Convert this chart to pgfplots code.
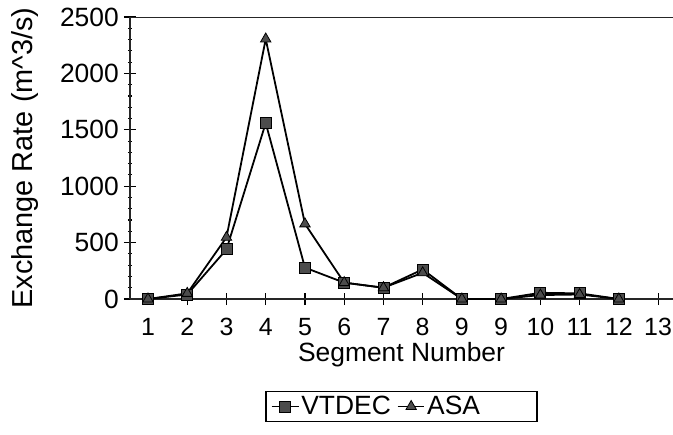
\documentclass[border=0pt]{standalone}
\usepackage{fontspec}
\setmainfont{Liberation Sans}
\usepackage{pgfplots}
\pgfplotsset{compat=1.18}
\begin{document}
\begin{tikzpicture}
\begin{axis}[
  name=ax,
  scale only axis, width=543bp, height=282bp,
  xmin=0.541, xmax=14.38, ymin=0, ymax=2500,
  xtick={1,...,14}, xticklabels={1,2,3,4,5,6,7,8,9,9,10,11,12,13},
  ytick={0,500,...,2500}, minor y tick num=4,
  tick align=center, major tick length=12bp, minor tick length=4bp,
  axis y line*=left, axis x line*=bottom,
  axis line style={line width=1.5pt, -, black!85},
  tick style={line width=1.1pt, black},
  /pgf/number format/assume math mode=true,
  /pgf/number format/1000 sep={},
  xticklabel style={font=\fontsize{25}{27}\selectfont, text height=18bp, text depth=0bp, inner sep=0pt, anchor=north, yshift=-12bp},
  yticklabel style={font=\fontsize{26.5}{28}\selectfont, inner sep=0pt, anchor=east, xshift=-5bp},
  xlabel={Segment Number}, ylabel={Exchange Rate (m\textasciicircum 3/s)},
  every axis x label/.style={at={(axis description cs:0.5,0)}, anchor=center, yshift=-56bp, font=\fontsize{26.5}{28}\selectfont},
  every axis y label/.style={at={(axis description cs:0,0.5)}, rotate=90, anchor=center, yshift=105bp, font=\fontsize{29}{30}\selectfont},
  legend style={at={(0.5,0)}, yshift=-92bp, anchor=north, legend columns=2, draw=black, line width=1.1pt,
    font=\fontsize{26.5}{28}\selectfont, inner xsep=5pt, inner ysep=3pt,
    /tikz/every even column/.append style={column sep=4pt},
    nodes={inner sep=2pt}},
  legend image code/.code={\draw[#1, line width=1.5pt] (0cm,0cm) -- (0.95cm,0cm); \draw[#1, only marks] plot coordinates {(0.48cm,0cm)};},
]
\addplot[black, line width=1.8pt, mark=square*, mark size=5.5bp, mark options={fill=black!70, draw=black, line width=0.8pt}] coordinates {
 (1,0) (2,40) (3,440) (4,1560) (5,278) (6,145) (7,100) (8,262) (9,0) (10,0) (11,55) (12,50) (13,0)
};
\addlegendentry{VTDEC}
\addplot[black, line width=1.8pt, mark=triangle*, mark size=6bp, mark options={fill=black!70, draw=black, line width=0.8pt}] coordinates {
 (1,0) (2,50) (3,547) (4,2305) (5,666) (6,145) (7,100) (8,232) (9,0) (10,0) (11,35) (12,40) (13,0)
};
\addlegendentry{ASA\hspace*{50bp}}
\draw[line width=1.5pt, black!85] (rel axis cs:0,1) -- (rel axis cs:1,1);
\end{axis}
\pgfresetboundingbox
\path (ax.south west) ++(-130bp,-136bp) rectangle ++(673bp,435bp);
\end{tikzpicture}
\end{document}
